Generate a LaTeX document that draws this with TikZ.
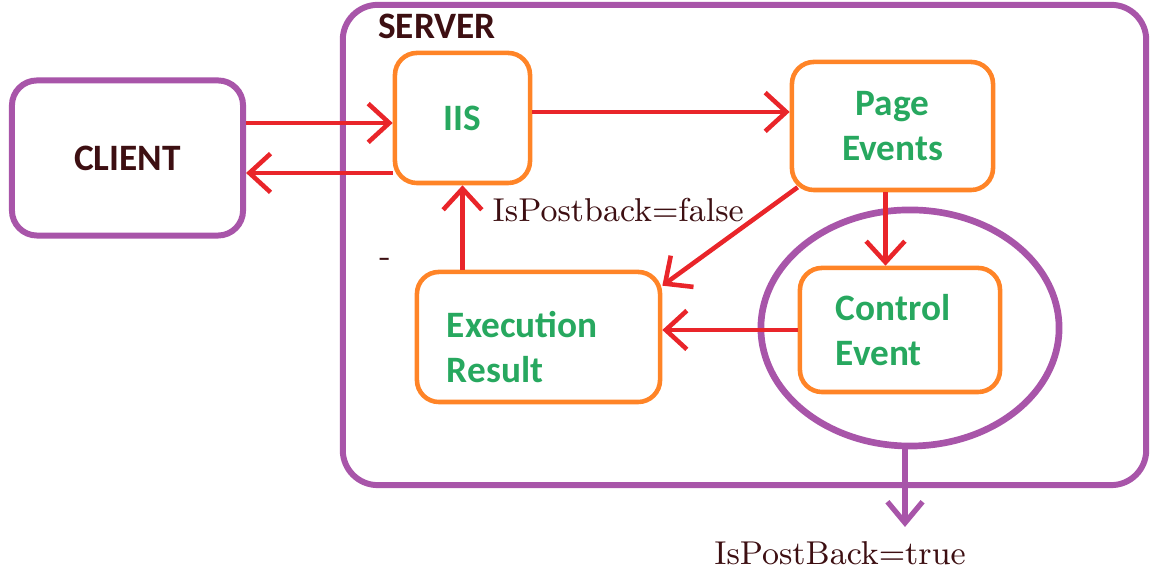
\documentclass[tikz,border=0pt]{standalone}
\usepackage{fontspec}
\newfontfamily\boxfont{Carlito}
\usetikzlibrary{arrows.meta,calc,shapes.geometric}
\definecolor{srvpurple}{HTML}{A855A9}
\definecolor{boxorange}{HTML}{FF8427}
\definecolor{boxgreen}{HTML}{27A85F}
\definecolor{flowred}{HTML}{E9252A}
\definecolor{darkink}{HTML}{3D0F12}

\begin{document}
\begin{tikzpicture}[x=0.01cm,y=-0.01cm,
	purplebox/.style={draw=srvpurple,line width=1.7pt,rounded corners=0.25cm,inner sep=0pt},
	boxtext/.style={text=boxgreen,font=\boxfont\bfseries\fontsize{10.6}{13}\selectfont,align=left},
	orangebox/.style={draw=boxorange,line width=1.3pt,rounded corners=0.22cm,boxtext},
	boxtitle/.style={text=darkink,font=\boxfont\bfseries\fontsize{10.6}{13}\selectfont},
	remark/.style={text=darkink,font=\fontsize{9.4}{11}\selectfont,inner sep=0pt},
	flow/.style={draw=flowred,line width=1.3pt,-{Straight Barb[length=6pt,width=11pt]}},
	backflow/.style={draw=srvpurple,line width=1.5pt,-{Straight Barb[length=6pt,width=10pt]}}]
	\useasboundingbox (0,0) rectangle (1150,571);
	\node[purplebox,minimum width=8.03cm,minimum height=4.80cm,rounded corners=0.35cm] (server) at (744.5,245) {};
	\node[boxtitle] (srvname) at (437,26) {SERVER};
	\node[purplebox,minimum width=2.31cm,minimum height=1.55cm,boxtitle] (client) at (127.5,158) {CLIENT};
	\node[draw=srvpurple,line width=1.9pt,ellipse,minimum width=2.98cm,minimum height=2.36cm,inner sep=0pt] (ring) at (910,328) {};
	\node[orangebox,minimum width=1.35cm,minimum height=1.30cm,align=center] (iis) at (462.5,118) {IIS};
	\node[orangebox,minimum width=2.01cm,minimum height=1.28cm,align=center] (page) at (892.5,126) {Page\\Events};
	\node[orangebox,minimum width=2.43cm,minimum height=1.30cm,
		label={[boxtext,text width=1.83cm,yshift=-0.1cm]center:Execution\\Result}] (exec) at (538.5,337) {};
	\node[orangebox,minimum width=2.00cm,minimum height=1.24cm,inner xsep=0.36cm,text width=1.28cm] (ctrl) at (900,330) {Control\\Event};
	\node[remark,anchor=west] (pbfalse) at (492,210) {IsPostback=false};
	\node[remark] (dash) at (385,262) {-};
	\coordinate (pbtip) at (905,527);
	\node[remark] (pbtrue) at (840,553) {IsPostBack=true};
	\draw[flow] ($(iis.west -| client.east)+(0,5)$) -- ($(iis.west)+(0,5)$);
	\draw[flow] ($(iis.west)+(0,55)$) -- ($(iis.west -| client.east)+(0,55)$);
	\draw[flow] ($(iis.east)+(0,-6)$) -- ($(iis.east -| page.west)+(0,-6)$);
	\draw[flow] ($(page.south west)+(8,-5)$) -- ($(exec.north east)+(0,16)$);
	\draw[flow] ($(page.south)+(-7,0)$) -- ($(page.south |- ctrl.north)+(-7,0)$);
	\draw[flow] (ctrl.west) -- (ctrl.west -| exec.east);
	\draw[flow] (iis.south |- exec.north) -- (iis.south);
	\draw[backflow] (ring.south -| pbtip) -- (pbtip);
\end{tikzpicture}
\end{document}
